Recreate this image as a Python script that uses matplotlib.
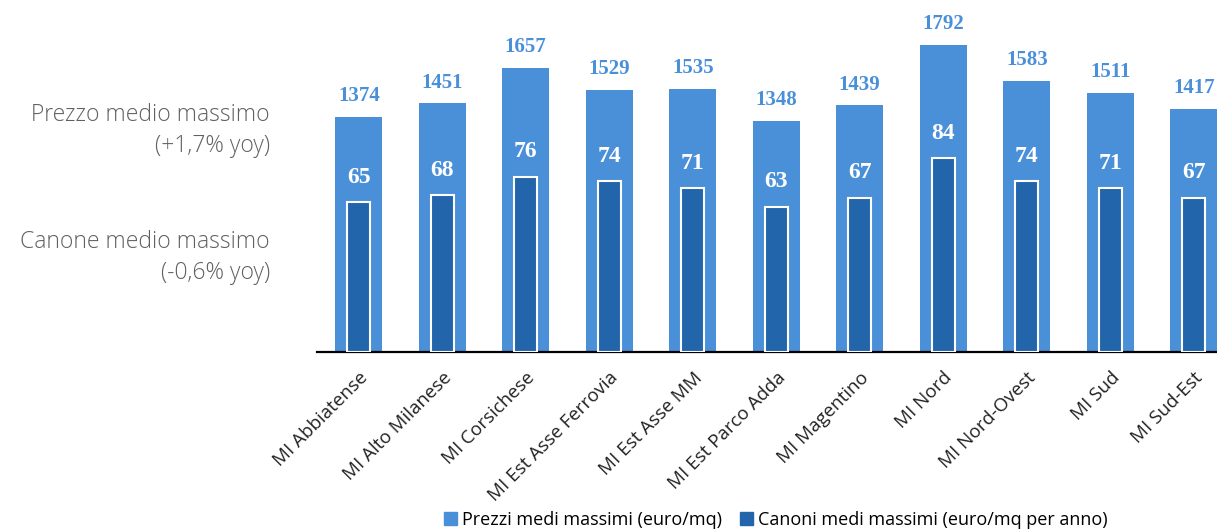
import numpy as np
import matplotlib.pyplot as plt
from matplotlib.patches import Patch

zones = ["MI Abbiatense", "MI Alto Milanese", "MI Corsichese", "MI Est Asse Ferrovia",
         "MI Est Asse MM", "MI Est Parco Adda", "MI Magentino", "MI Nord",
         "MI Nord-Ovest", "MI Sud", "MI Sud-Est"]
prezzi = [1374, 1451, 1657, 1529, 1535, 1348, 1439, 1792, 1583, 1511, 1417]
canoni = [65, 68, 76, 74, 71, 63, 67, 84, 74, 71, 67]

light = "#4a90d9"
dark = "#2265ab"
grey = "#606060"

W, H = 1217, 532
fig = plt.figure(figsize=(W / 100, H / 100), dpi=100)
# axes runs past the right edge, as in the reference (last bar is cut)
left, right, bottom, top = 317 / W, 1235.5 / W, 1 - 352 / H, 1 - 9.4 / H
ax = fig.add_axes([left, bottom, right - left, top - bottom])
ax2 = ax.twinx()

x = np.arange(len(zones))
ax.bar(x, prezzi, width=0.56, color=light, zorder=2)
ax2.bar(x, canoni, width=0.27, color=dark, edgecolor="white", linewidth=1.5, zorder=3)

ax.set_xlim(-0.5, len(zones) - 0.5)
ax.set_ylim(0, 2000)
ax2.set_ylim(0, 148.6)

for xi, v in zip(x, prezzi):
    ax.annotate(str(v), (xi, v), xytext=(0, 15), textcoords="offset points",
                ha="center", va="center", color=light, fontsize=15,
                fontweight="bold", family="Liberation Serif")
for xi, v in zip(x, canoni):
    ax2.annotate(str(v), (xi, v), xytext=(0, 18), textcoords="offset points",
                 ha="center", va="center", color="white", fontsize=17,
                 fontweight="bold", family="Liberation Serif")

for a in (ax, ax2):
    for s in ["top", "right", "left"]:
        a.spines[s].set_visible(False)
    a.set_yticks([])
ax.spines["bottom"].set_linewidth(1.6)
ax.spines["bottom"].set_color("black")
ax2.spines["bottom"].set_visible(False)

ax.set_xticks(x)
ax.set_xticklabels(zones, rotation=45, ha="right", rotation_mode="anchor",
                   fontsize=13.5, family="Open Sans", color="#222222")
ax.tick_params(axis="x", length=0, pad=12)

txt = dict(ha="right", va="center", color=grey, fontsize=16.5,
           family="Open Sans", fontweight="light")
fig.text(270 / W, 1 - 115 / H, "Prezzo medio massimo", **txt)
fig.text(270 / W, 1 - 146 / H, "(+1,7% yoy)", **txt)
fig.text(270 / W, 1 - 242 / H, "Canone medio massimo", **txt)
fig.text(270 / W, 1 - 273 / H, "(-0,6% yoy)", **txt)

handles = [Patch(color=light, label="Prezzi medi massimi (euro/mq)"),
           Patch(color=dark, label="Canoni medi massimi (euro/mq per anno)")]
fig.legend(handles=handles, loc="center", bbox_to_anchor=(776 / W, 1 - 520 / H),
           ncol=2, frameon=False, handlelength=0.7, handleheight=0.7,
           handletextpad=0.3, columnspacing=1.0, prop={"family": "Open Sans", "size": 13})

fig.savefig("out.png", dpi=100)
